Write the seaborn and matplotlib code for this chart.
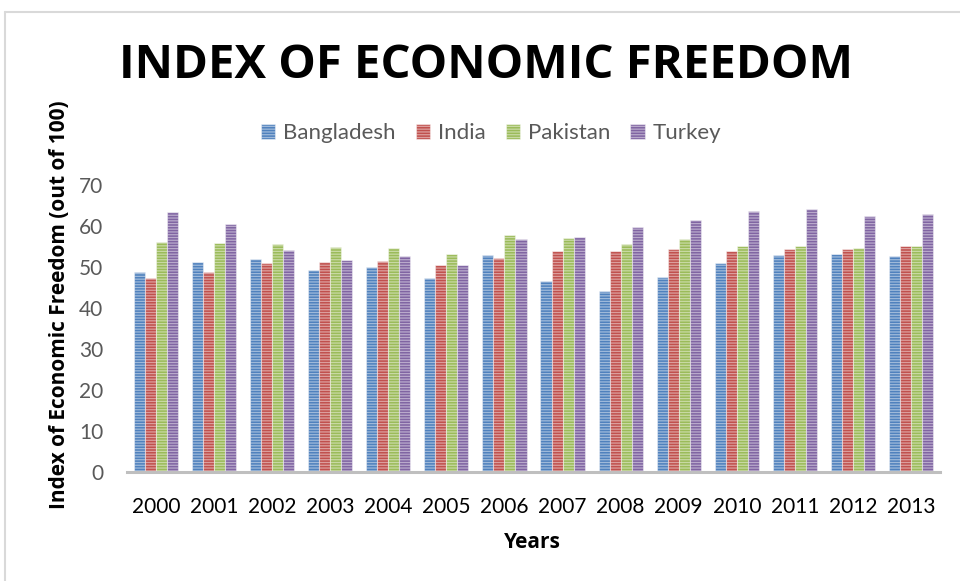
import matplotlib
matplotlib.use("Agg")
import matplotlib.pyplot as plt
from matplotlib.lines import Line2D
from matplotlib.patches import Patch
import seaborn as sns
import pandas as pd

years = ["2000", "2001", "2002", "2003", "2004", "2005", "2006",
         "2007", "2008", "2009", "2010", "2011", "2012", "2013"]
countries = ["Bangladesh", "India", "Pakistan", "Turkey"]
bangladesh = [48.9, 51.2, 51.9, 49.3, 49.9, 47.4, 52.9, 46.7, 44.1, 47.5, 51.0, 53.0, 53.1, 52.6]
india = [47.3, 48.8, 51.0, 51.1, 51.4, 50.5, 52.1, 53.8, 54.0, 54.3, 53.8, 54.5, 54.4, 55.1]
pakistan = [56.2, 55.9, 55.7, 54.8, 54.7, 53.2, 57.8, 57.1, 55.5, 56.9, 55.1, 55.0, 54.7, 55.0]
turkey = [63.3, 60.5, 54.1, 51.7, 52.7, 50.4, 56.9, 57.3, 59.8, 61.5, 63.7, 64.2, 62.5, 62.9]
colors = ["#4F81BD", "#C0504D", "#9BBB59", "#8064A2"]
yticks = [0, 10, 20, 30, 40, 50, 60, 70]

df = pd.DataFrame({
    "Year": years * 4,
    "Country": [c for c in countries for _ in years],
    "Score": bangladesh + india + pakistan + turkey,
})

sns.set_theme(style="white")
plt.rcParams["font.family"] = ["Lato", "DejaVu Sans"]
plt.rcParams["hatch.linewidth"] = 0.9

W, H = 960, 581
fig = plt.figure(figsize=(W / 100, H / 100), dpi=100)
ax = fig.add_axes([127 / W, 1 - 472 / H, 813 / W, 287 / H])

sns.barplot(data=df, x="Year", y="Score", hue="Country", order=years,
            hue_order=countries, palette=colors, width=0.76, ax=ax,
            legend=False, saturation=1, errorbar=None)

stripe = (1, 1, 1, 0.45)
for p in ax.patches:
    p.set_hatch("------")
    p.set_edgecolor(stripe)
    p.set_linewidth(0.8)

ax.set_ylim(0, 70)
ax.set_yticks(yticks)
ax.set_xlim(-0.5, len(years) - 0.5)
ax.set_xlabel("")
ax.set_ylabel("")
for s in ["top", "right", "left"]:
    ax.spines[s].set_visible(False)
ax.spines["bottom"].set_color("#BFBFBF")
ax.spines["bottom"].set_linewidth(2.2)
ax.tick_params(axis="y", length=0, pad=17, labelsize=15, labelcolor="#595959")
ax.tick_params(axis="x", length=0, pad=18, labelsize=15, labelcolor="#000000")

# title, axis titles
fig.text(486 / W, 1 - 65 / H, "INDEX OF ECONOMIC FREEDOM", ha="center", va="center",
         fontsize=34, fontweight="bold", color="black", family=["Open Sans", "DejaVu Sans"])
fig.text(60 / W, 1 - 305 / H, "Index of Economic Freedom (out of 100)", rotation=90,
         ha="center", va="center", fontsize=15, fontweight="bold", color="black",
         family=["Open Sans", "DejaVu Sans"])
fig.text(532 / W, 1 - 542 / H, "Years", ha="center", va="center", fontsize=15,
         fontweight="bold", color="black", family=["Open Sans", "DejaVu Sans"])

# legend
handles = [Patch(facecolor=c, edgecolor=stripe, hatch="------", linewidth=0.8) for c in colors]
leg = fig.legend(handles, countries, loc="center", bbox_to_anchor=(491 / W, 1 - 133 / H),
                 ncol=4, frameon=False, fontsize=16, handlelength=0.65, handleheight=0.65,
                 handletextpad=0.35, columnspacing=0.9, labelcolor="#595959")

# outer frame lines
fig.add_artist(Line2D([5 / W, 1], [1 - 12 / H, 1 - 12 / H], color="#D9D9D9", lw=1.5,
                      transform=fig.transFigure))
fig.add_artist(Line2D([5 / W, 5 / W], [0, 1 - 12 / H], color="#D9D9D9", lw=1.5,
                      transform=fig.transFigure))

fig.savefig("out.png", dpi=100, facecolor="white")
